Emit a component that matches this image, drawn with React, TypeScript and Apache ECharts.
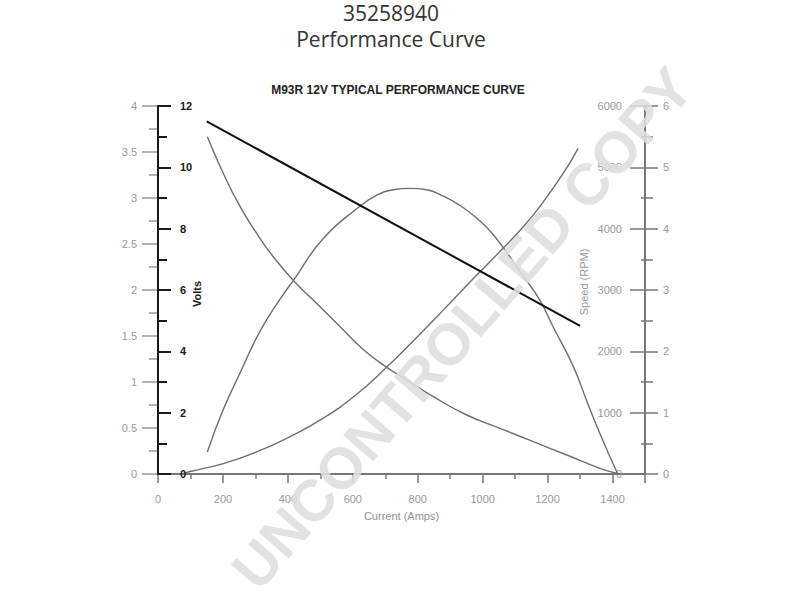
import React, { useEffect, useRef } from "react";
import * as echarts from "echarts";

// Current (Amps) vs values
const voltageLine: [number, number][] = [
  [150, 11.5],
  [1300, 4.83],
];
const speedRpm: [number, number][] = [
  [152, 5499], [201, 4903], [253, 4358], [304, 3924], [355, 3543], [422, 3125],
  [489, 2780], [561, 2400], [632, 2030], [699, 1760], [766, 1533], [848, 1260],
  [951, 962], [1053, 745], [1156, 527], [1259, 310], [1361, 93], [1422, 0],
];
const powerKw: [number, number][] = [
  [152, 0.24], [201, 0.7], [253, 1.1], [314, 1.55], [376, 1.9], [422, 2.13],
  [509, 2.56], [622, 2.91], [674, 3.03], [725, 3.09], [776, 3.105], [828, 3.09],
  [879, 3.02], [930, 2.92], [982, 2.78], [1033, 2.6], [1125, 2.15], [1176, 1.89],
  [1217, 1.6], [1279, 1.17], [1320, 0.8], [1361, 0.44], [1416, 0],
];
const torque: [number, number][] = [
  [75, 0], [99, 0.04], [201, 0.17], [304, 0.36], [407, 0.61], [509, 0.91],
  [612, 1.3], [704, 1.74], [786, 2.17], [880, 2.68], [970, 3.18], [1063, 3.68],
  [1125, 4.03], [1176, 4.36], [1248, 4.9], [1294, 5.31],
];

const titleLine1 = "35258940";
const titleLine2 = "Performance Curve";
const subTitle = "M93R 12V TYPICAL PERFORMANCE CURVE";
const watermark = "UNCONTROLLED COPY";
const leftAxisName = "Volts";
const rightAxisName = "Speed (RPM)";
const xAxisName = "Current (Amps)";

export default function App() {
  const ref = useRef<HTMLDivElement>(null);
  useEffect(() => {
    if (!ref.current) return;
    const chart = echarts.init(ref.current, undefined, { renderer: "svg" });
    const gray = "#9a9a9a";
    const curve = "#6e6e6e";
    const center = { align: "center", verticalAlign: "middle", textAlign: "center", textVerticalAlign: "middle" };
    chart.setOption({
      animation: false,
      backgroundColor: "#ffffff",
      textStyle: { fontFamily: "Liberation Sans, Arial, sans-serif" },
      grid: { left: 158, right: 155, top: 106, bottom: 126 },
      graphic: [
        {
          type: "text", x: 391, y: 13, z: 10,
          style: { text: titleLine1, fontFamily: "Open Sans", fontSize: 21, fill: "#333", ...center },
        },
        {
          type: "text", x: 391, y: 39, z: 10,
          style: { text: titleLine2, fontFamily: "Open Sans", fontSize: 21, fill: "#333", ...center },
        },
        {
          type: "text", x: 398, y: 90, z: 10,
          style: { text: subTitle, fontFamily: "Liberation Sans, Arial", fontSize: 12, fontWeight: "bold", fill: "#222", ...center },
        },
        {
          type: "text", x: 197, y: 294, z: 10, rotation: Math.PI / 2,
          style: { text: leftAxisName, fontFamily: "Liberation Sans, Arial", fontSize: 11, fontWeight: "bold", fill: "#1a1a1a", ...center },
        },
        {
          type: "text", x: 584, y: 282, z: 10, rotation: Math.PI / 2,
          style: { text: rightAxisName, fontFamily: "Liberation Sans, Arial", fontSize: 11, fill: gray, ...center },
        },
        {
          type: "text", x: 462, y: 328, z: 100, rotation: (49 * Math.PI) / 180,
          style: { text: watermark, fontFamily: "Liberation Sans, Arial", fontSize: 58, fontWeight: "bold",
            fill: "rgba(222,222,222,0.88)", ...center },
        },
      ],
      xAxis: {
        type: "value", min: 0, max: 1500, interval: 200,
        splitLine: { show: false },
        axisLine: { show: true, lineStyle: { color: "#777", width: 2 } },
        axisTick: { show: true, length: 9, lineStyle: { color: "#777", width: 1.5 } },
        minorTick: { show: true, splitNumber: 2, length: 5, lineStyle: { color: "#777", width: 1.5 } },
        axisLabel: { color: gray, fontSize: 11, margin: 19,
          formatter: (v: number) => (v === 1500 ? "" : String(v)) },
        name: xAxisName, nameLocation: "middle", nameGap: 36,
        nameTextStyle: { color: "#8c92a0", fontSize: 11 },
      },
      yAxis: [
        {
          type: "value", position: "left", min: 0, max: 4, interval: 0.5,
          splitLine: { show: false },
          axisLine: { show: true, lineStyle: { color: "#1a1a1a", width: 2 } },
          axisTick: { show: true, length: 16, lineStyle: { color: "#999", width: 1.5 } },
          minorTick: { show: true, splitNumber: 2, length: 9, lineStyle: { color: "#999", width: 1.5 } },
          axisLabel: { color: gray, fontSize: 11, margin: 21 },
          z: 5,
        },
        {
          type: "value", position: "left", min: 0, max: 12, interval: 2,
          splitLine: { show: false },
          axisLine: { show: true, lineStyle: { color: "#1a1a1a", width: 2 } },
          axisTick: { show: true, inside: true, length: 13, lineStyle: { color: "#1a1a1a", width: 2 } },
          minorTick: { show: true, splitNumber: 2, length: 9, lineStyle: { color: "#1a1a1a", width: 2 } },
          axisLabel: { inside: true, color: "#1a1a1a", fontSize: 11, fontWeight: "bold", margin: 22 },
          z: 6,
        },
        {
          type: "value", position: "right", min: 0, max: 6000, interval: 1000,
          splitLine: { show: false },
          axisLine: { show: true, lineStyle: { color: "#777", width: 2 } },
          axisTick: { show: true, inside: true, length: 15, lineStyle: { color: "#777", width: 1.5 } },
          minorTick: { show: true, splitNumber: 2, length: 4, lineStyle: { color: "#777", width: 1.5 } },
          axisLabel: { inside: true, color: gray, fontSize: 11, margin: 23, formatter: (v: number) => String(v) },
        },
        {
          type: "value", position: "right", min: 0, max: 6, interval: 1,
          splitLine: { show: false },
          axisLine: { show: false },
          axisTick: { show: true, length: 13, lineStyle: { color: "#777", width: 1.5 } },
          minorTick: { show: true, splitNumber: 2, length: 8, lineStyle: { color: "#777", width: 1.5 } },
          axisLabel: { color: gray, fontSize: 11, margin: 18 },
        },
      ],
      series: [
        {
          type: "line", yAxisIndex: 1, data: voltageLine, showSymbol: false,
          lineStyle: { color: "#111", width: 2 }, z: 4,
        },
        {
          type: "line", yAxisIndex: 2, data: speedRpm, showSymbol: false, smooth: 0.5,
          lineStyle: { color: curve, width: 1.4 },
        },
        {
          type: "line", yAxisIndex: 0, data: powerKw, showSymbol: false, smooth: 0.5,
          lineStyle: { color: curve, width: 1.4 },
        },
        {
          type: "line", yAxisIndex: 3, data: torque, showSymbol: false, smooth: 0.5,
          lineStyle: { color: curve, width: 1.4 },
        },
      ],
    });
    return () => chart.dispose();
  }, []);
  return (
    <div
      ref={ref}
      style={{ position: "fixed", left: 0, top: 0, width: 800, height: 600 }}
    />
  );
}
